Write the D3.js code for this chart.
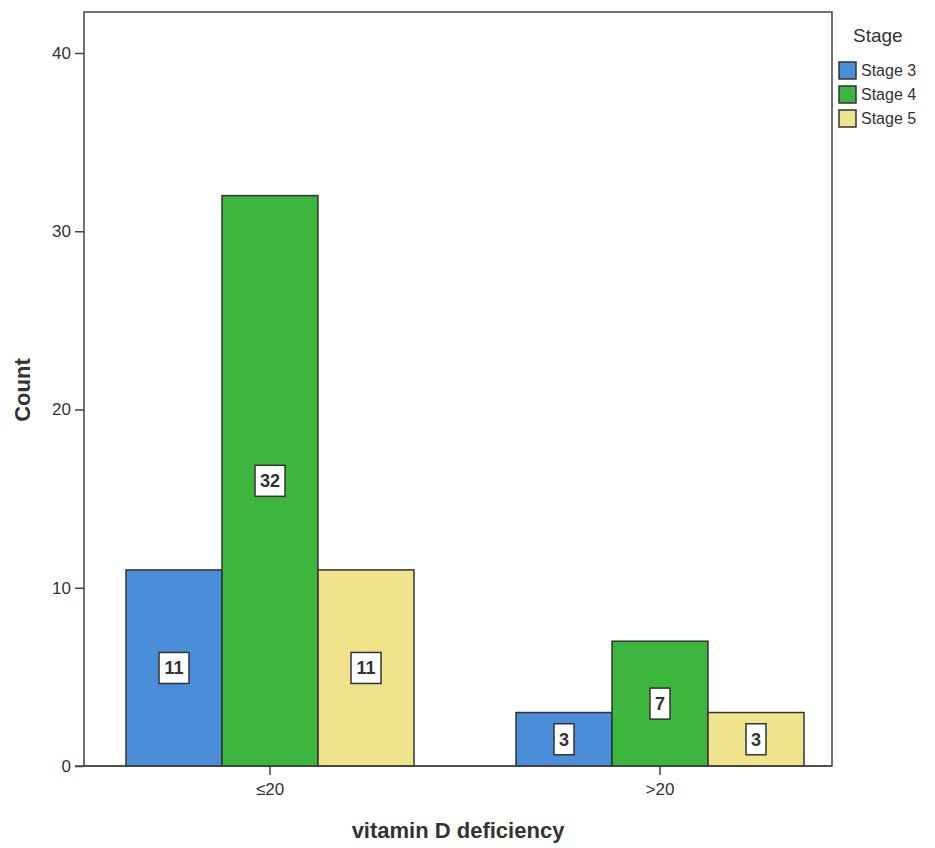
<!DOCTYPE html>
<html><head><meta charset="utf-8">
<script src="https://cdn.jsdelivr.net/npm/d3@7"></script>
<style>body{margin:0;background:#fff;} text{font-family:Arial,"Liberation Sans",sans-serif;}</style>
</head><body>
<svg id="c" width="935" height="848"></svg>
<script>
const categories = ["≤20", ">20"];
const stages = ["Stage 3", "Stage 4", "Stage 5"];
const stage3 = [11, 3];
const stage4 = [32, 7];
const stage5 = [11, 3];
const yTicks = [0, 10, 20, 30, 40];
const colors = ["#4a8dd8", "#3cb63c", "#efe48c"];

(function(){
const svg = d3.select("#c");
const pLeft = 84, pRight = 832, pTop = 12, pBottom = 766;
const y = d3.scaleLinear().domain([0, 40]).range([pBottom, 53]);
const x0 = d3.scaleBand().domain(categories).range([75, 855]);
const x1 = d3.scaleBand().domain(stages).range([0, 288]);
const series = [stage3, stage4, stage5];

// frame
svg.append("rect").attr("x", pLeft).attr("y", pTop).attr("width", pRight-pLeft).attr("height", pBottom-pTop)
  .attr("fill", "#fff").attr("stroke", "#444").attr("stroke-width", 1.5);

// bars
const bars = [];
categories.forEach((c, i) => stages.forEach((s, j) => bars.push({c, s, v: series[j][i], j})));
const g = svg.append("g");
g.selectAll("rect.bar").data(bars).join("rect").attr("class","bar")
  .attr("x", d => x0(d.c) + x0.bandwidth()/2 - 144 + x1(d.s))
  .attr("width", x1.bandwidth())
  .attr("y", d => y(d.v)).attr("height", d => y(0) - y(d.v))
  .attr("fill", d => colors[d.j]).attr("stroke", "#333").attr("stroke-width", 1.5);

// labels
bars.forEach(d => {
  const cx = x0(d.c) + x0.bandwidth()/2 - 144 + x1(d.s) + x1.bandwidth()/2;
  const cy = (y(d.v) + y(0)) / 2;
  const t = String(d.v);
  const w = t.length > 1 ? 30 : 20, h = 31;
  g.append("rect").attr("x", cx - w/2).attr("y", cy - h/2).attr("width", w).attr("height", h)
    .attr("fill", "#fff").attr("stroke", "#333").attr("stroke-width", 1.5);
  g.append("text").attr("x", cx).attr("y", cy + 6.5).attr("text-anchor", "middle")
    .attr("font-size", 18).attr("font-weight", "bold").attr("fill", "#333").text(t);
});

// y axis
const ya = svg.append("g").attr("transform", `translate(${pLeft},0)`)
  .call(d3.axisLeft(y).tickValues(yTicks).tickSize(9).tickPadding(4));
ya.select(".domain").remove();
ya.selectAll("line").attr("stroke", "#444").attr("stroke-width", 1.5);
ya.selectAll("text").attr("font-size", 17).attr("fill", "#333").attr("font-family", "Arial");

// x axis
const xa = svg.append("g").attr("transform", `translate(0,${pBottom})`)
  .call(d3.axisBottom(x0).tickSize(9).tickPadding(8));
xa.select(".domain").remove();
xa.selectAll("line").attr("stroke", "#444").attr("stroke-width", 1.5);
xa.selectAll("text").attr("font-size", 17).attr("fill", "#333").attr("font-family", "Arial");
svg.append("line").attr("x1", 75).attr("x2", pRight).attr("y1", pBottom).attr("y2", pBottom)
  .attr("stroke", "#444").attr("stroke-width", 1.5);

// axis titles
svg.append("text").attr("x", 458).attr("y", 838).attr("text-anchor", "middle")
  .attr("font-size", 22).attr("font-weight", "bold").attr("fill", "#333").text("vitamin D deficiency");
svg.append("text").attr("transform", "translate(30,390) rotate(-90)").attr("text-anchor", "middle")
  .attr("font-size", 22).attr("font-weight", "bold").attr("fill", "#333").text("Count");

// legend
svg.append("text").attr("x", 853).attr("y", 42).attr("font-size", 19).attr("fill", "#333").text("Stage");
stages.forEach((s, j) => {
  const yy = 62 + j * 24;
  svg.append("rect").attr("x", 839).attr("y", yy).attr("width", 17).attr("height", 17)
    .attr("fill", colors[j]).attr("stroke", "#333").attr("stroke-width", 1.5);
  svg.append("text").attr("x", 861).attr("y", yy + 14).attr("font-size", 16).attr("fill", "#333").text(s);
});
})();
</script>
</body></html>
